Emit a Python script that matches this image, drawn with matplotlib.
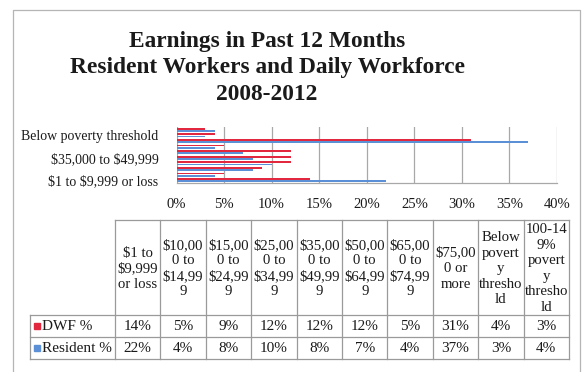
import matplotlib
matplotlib.use("Agg")
import matplotlib.pyplot as plt
from matplotlib.patches import Rectangle

plt.rcParams["text.parse_math"] = False

# Earnings categories (bottom to top on the bar chart, left to right in the table)
categories = [
    "$1 to $9,999 or loss",
    "$10,000 to $14,999",
    "$15,000 to $24,999",
    "$25,000 to $34,999",
    "$35,000 to $49,999",
    "$50,000 to $64,999",
    "$65,000 to $74,999",
    "$75,000 or more",
    "Below poverty threshold",
    "100-149% poverty threshold",
]
# Column headings as they wrap inside the narrow table cells
header_labels = [
    "$1 to\n$9,999\nor loss",
    "$10,00\n0 to\n$14,99\n9",
    "$15,00\n0 to\n$24,99\n9",
    "$25,00\n0 to\n$34,99\n9",
    "$35,00\n0 to\n$49,99\n9",
    "$50,00\n0 to\n$64,99\n9",
    "$65,00\n0 to\n$74,99\n9",
    "$75,00\n0 or\nmore",
    "Below\npovert\ny\nthresho\nld",
    "100-14\n9%\npovert\ny\nthresho\nld",
]
series_names = ["DWF %", "Resident %"]
dwf_pct = [14, 5, 9, 12, 12, 12, 5, 31, 4, 3]
resident_pct = [22, 4, 8, 10, 8, 7, 4, 37, 3, 4]
x_ticks = [0, 5, 10, 15, 20, 25, 30, 35, 40]

RED = "#e2283e"
BLUE = "#5b90d6"
GRID = "#a8a8a8"
TXT = "#1a1a1a"
SERIF = "Liberation Serif"

W, H = 585, 372
fig = plt.figure(figsize=(W / 100, H / 100), dpi=100)
fig.patch.set_facecolor("white")

# ---- bar chart ----
ax = fig.add_axes([176.5 / W, 1 - 183 / H, (557 - 176.5) / W, (183 - 127) / H])
ys = list(range(len(categories)))
ax.barh([y + 0.2 for y in ys], dwf_pct, height=0.34, color=RED, zorder=3)
ax.barh([y - 0.2 for y in ys], resident_pct, height=0.34, color=BLUE, zorder=3)
ax.set_xlim(0, 40)
ax.set_ylim(-0.5, len(categories) - 0.5)
ax.set_xticks(x_ticks)
ax.set_xticklabels([f"{t}%" for t in x_ticks], fontfamily=SERIF, fontsize=10.5, color=TXT)
ax.set_yticks(ys[::4])
ax.set_yticklabels(categories[::4], fontfamily=SERIF, fontsize=10, color=TXT)
ax.tick_params(axis="both", length=0)
ax.tick_params(axis="x", pad=11)
ax.tick_params(axis="y", pad=13)
ax.grid(axis="x", color=GRID, linewidth=0.9, zorder=0)
for side in ("top", "right", "left"):
    ax.spines[side].set_visible(False)
ax.spines["bottom"].set_color(GRID)
ax.spines["bottom"].set_linewidth(0.9)

# ---- overlay in pixel coordinates: frame, title, data table ----
ov = fig.add_axes([0, 0, 1, 1], zorder=-1)
ov.set_xlim(0, W)
ov.set_ylim(H, 0)
ov.axis("off")

# chart frame
ov.plot([13, 13, 580, 580], [H + 5, 10, 10, H + 5], color="#b5b5b5", lw=0.9)

title_lines = ["Earnings in Past 12 Months",
               "Resident Workers and Daily Workforce",
               "2008-2012"]
for yy, line in zip([42, 68, 95], title_lines):
    ov.text(267, yy, line, ha="center", va="center", fontfamily=SERIF,
            fontweight="bold", fontsize=16.8, color=TXT)

# table geometry
col_left = 115
col_w = (569 - 115) / len(categories)
head_top, head_bot = 220, 315
row_h = 22
label_left = 30
lc = "#9a9a9a"
n = len(categories)

# header cell borders
ov.plot([col_left, col_left + n * col_w], [head_top, head_top], color=lc, lw=0.9)
for i in range(n + 1):
    x = col_left + i * col_w
    ov.plot([x, x], [head_top, head_bot + 2 * row_h], color=lc, lw=0.9)
# data row borders
for k in range(3):
    y = head_bot + k * row_h
    ov.plot([label_left, col_left + n * col_w], [y, y], color=lc, lw=0.9)
ov.plot([label_left, label_left], [head_bot, head_bot + 2 * row_h], color=lc, lw=0.9)

for i, lab in enumerate(header_labels):
    ov.text(col_left + (i + 0.5) * col_w, (head_top + head_bot) / 2 + 1, lab,
            ha="center", va="center", fontfamily=SERIF, fontsize=10.6,
            color=TXT, linespacing=1.25)

for r, (name, vals, colr) in enumerate(zip(series_names, [dwf_pct, resident_pct], [RED, BLUE])):
    yc = head_bot + (r + 0.5) * row_h
    ov.add_patch(Rectangle((34, yc - 3.5), 6, 6, color=colr))
    ov.text(42, yc + 0.5, name, ha="left", va="center", fontfamily=SERIF,
            fontsize=11, color=TXT)
    for i, v in enumerate(vals):
        ov.text(col_left + (i + 0.5) * col_w, yc + 0.5, f"{v}%", ha="center",
                va="center", fontfamily=SERIF, fontsize=11, color=TXT)

fig.savefig("out.png", dpi=100, facecolor="white")
